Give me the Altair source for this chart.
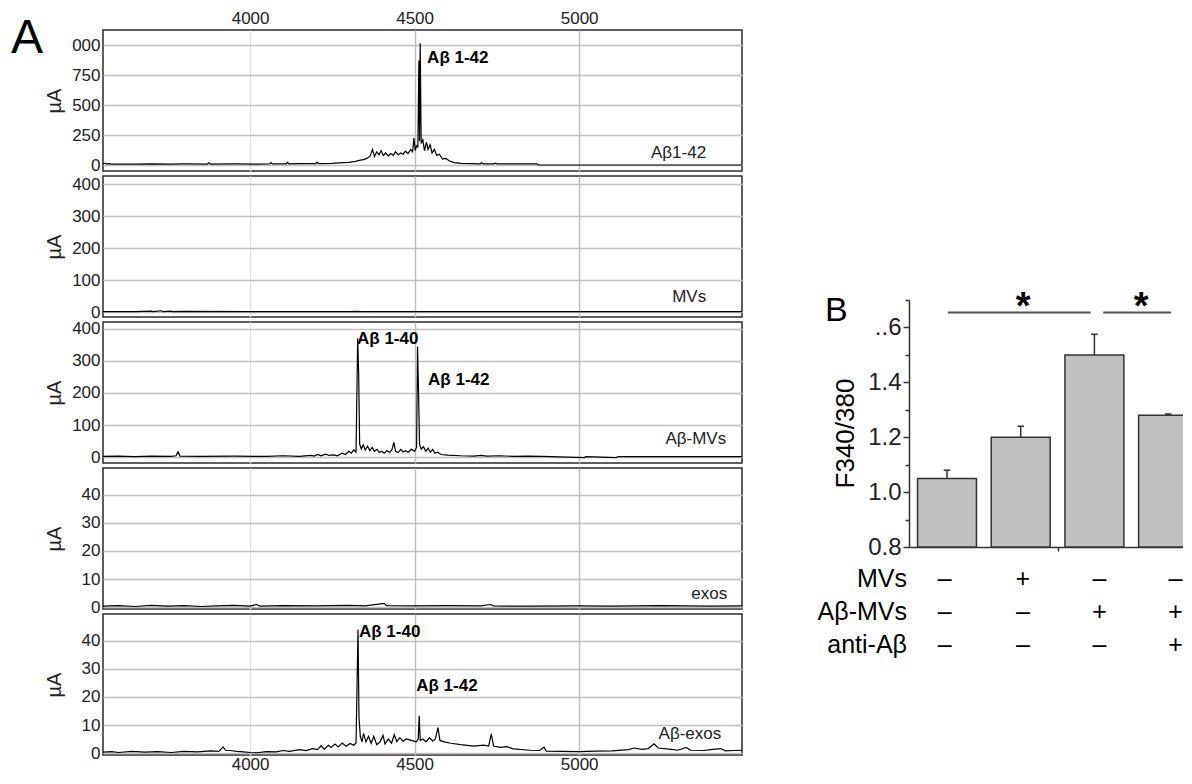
import altair as alt
import pandas as pd

FONT = "Liberation Sans"

# ---------------- Panel A data: MALDI spectra (m/z, µA) ----------------
MZ_TICKS = [4000, 4500, 5000]

SPEC_ABETA42 = [
    (3553, 8), (3560, 15), (3565, 8), (3572, 12), (3580, 8), (3650, 8), (3700, 10),
    (3760, 8), (3800, 9), (3870, 8), (3875, 18), (3880, 8), (3950, 9), (4020, 8),
    (4060, 9), (4063, 20), (4068, 9), (4110, 10), (4113, 22), (4118, 10), (4150, 12),
    (4200, 12), (4203, 24), (4208, 12), (4250, 14), (4270, 18), (4300, 22), (4320, 30),
    (4335, 40), (4345, 45), (4355, 55), (4365, 75), (4372, 130), (4378, 70), (4385, 110),
    (4392, 85), (4398, 120), (4405, 80), (4412, 100), (4420, 75), (4428, 95), (4435, 80),
    (4442, 110), (4450, 85), (4458, 100), (4465, 90), (4472, 115), (4480, 95), (4488, 130),
    (4494, 110), (4498, 225), (4502, 120), (4506, 160), (4510, 150), (4513, 870), (4515, 200),
    (4517, 1015), (4520, 180), (4525, 210), (4530, 120), (4536, 190), (4541, 130), (4547, 170),
    (4553, 100), (4560, 130), (4567, 80), (4575, 90), (4585, 50), (4595, 55), (4605, 35),
    (4620, 20), (4640, 14), (4670, 12), (4700, 10), (4703, 20), (4708, 10), (4740, 10),
    (4745, 16), (4750, 10), (4800, 10), (4872, 10), (4876, 0), (4950, 0), (5100, 0),
    (5300, 0), (5495, 0),
]

SPEC_MVS = [
    (3553, 1), (3650, 1), (3700, 3), (3705, 1), (3730, 4), (3735, 1), (3760, 3), (3765, 1),
    (3790, 2), (4000, 1), (4300, 1), (4330, 2), (4335, 1), (4700, 1), (5000, 1), (5495, 1),
]

SPEC_ABETA_MVS = [
    (3553, 2), (3600, 3), (3650, 1), (3700, 3), (3760, 2), (3775, 4), (3781, 16), (3787, 3),
    (3850, 2), (3950, 3), (4050, 2), (4100, 4), (4150, 2), (4185, 5), (4195, 3), (4205, 8),
    (4215, 4), (4230, 9), (4240, 5), (4255, 7), (4265, 4), (4280, 12), (4290, 8), (4300, 18),
    (4308, 12), (4315, 22), (4322, 15), (4327, 370), (4330, 260), (4333, 40), (4338, 25),
    (4344, 38), (4350, 22), (4357, 34), (4364, 20), (4371, 30), (4378, 18), (4386, 24),
    (4393, 14), (4400, 18), (4408, 12), (4416, 20), (4424, 14), (4431, 22), (4437, 46),
    (4442, 18), (4450, 14), (4458, 24), (4465, 16), (4472, 20), (4480, 15), (4490, 24),
    (4500, 18), (4506, 30), (4509, 345), (4512, 200), (4515, 40), (4520, 25), (4527, 32),
    (4534, 18), (4541, 28), (4548, 15), (4555, 24), (4562, 12), (4570, 15), (4580, 8),
    (4600, 6), (4640, 4), (4680, 3), (4700, 5), (4720, 3), (4760, 4), (4800, 2), (4840, 3),
    (4890, 2), (5015, -2), (5020, 1), (5112, -2), (5118, 1), (5300, 1), (5495, 1),
]

SPEC_EXOS = [
    (3553, 0.3), (3600, 0.5), (3650, 0.2), (3700, 0.6), (3750, 0.3), (3800, 0.5), (3850, 0.2),
    (3900, 0.4), (3950, 0.6), (4000, 0.3), (4020, 0.9), (4030, 0.3), (4100, 0.5), (4200, 0.4),
    (4300, 0.6), (4350, 0.4), (4407, 1.3), (4415, 0.5), (4500, 0.4), (4600, 0.5), (4700, 0.4),
    (4730, 0.9), (4740, 0.4), (4850, 0.3), (5000, 0.4), (5100, 0.3), (5250, 0.5), (5400, 0.3),
    (5495, 0.4),
]

SPEC_ABETA_EXOS = [
    (3553, 0.3), (3580, 0.5), (3600, 0.2), (3640, 0.6), (3680, 0.3), (3720, 0.5), (3760, 0.2),
    (3800, 0.6), (3840, 0.4), (3880, 0.8), (3905, 0.6), (3918, 2.2), (3925, 1.0), (3940, 0.9),
    (3960, 0.6), (3980, 0.4), (4000, 0.2), (4020, 0.1), (4050, 0.5), (4080, 0.4), (4100, 0.9),
    (4120, 0.6), (4150, 1.2), (4170, 0.9), (4190, 1.6), (4205, 1.2), (4216, 2.6), (4225, 1.4),
    (4238, 2.8), (4246, 2.0), (4258, 3.2), (4268, 2.2), (4280, 3.6), (4292, 2.4), (4304, 3.4),
    (4315, 2.8), (4322, 3.6), (4328, 44), (4331, 12.5), (4335, 6), (4340, 4), (4345, 7),
    (4352, 4), (4360, 6), (4368, 3.5), (4376, 6), (4385, 3), (4395, 4), (4404, 6.3),
    (4410, 3.2), (4420, 5), (4430, 3.5), (4438, 6.6), (4446, 4), (4455, 5.5), (4465, 4.2),
    (4475, 5), (4490, 4.5), (4505, 4), (4511, 5), (4514, 13.3), (4517, 4.5), (4525, 5),
    (4535, 4), (4545, 5.5), (4555, 4.2), (4563, 5), (4571, 9.1), (4577, 4.5), (4590, 4),
    (4610, 3.5), (4640, 3), (4680, 2.5), (4710, 2.8), (4725, 2.5), (4733, 6.8), (4740, 2.5),
    (4760, 2), (4780, 2.3), (4800, 1.5), (4850, 1), (4880, 0.9), (4893, 2.1), (4900, 0.7),
    (4950, 0.6), (5000, 0.5), (5050, 0.7), (5100, 0.8), (5150, 1.2), (5167, 1.8), (5190, 1.3),
    (5210, 1.6), (5228, 3.3), (5240, 1.8), (5280, 1.3), (5300, 1.0), (5325, 2.0), (5340, 1.0),
    (5380, 0.9), (5400, 1.2), (5430, 1.6), (5445, 0.8), (5470, 0.9), (5495, 1.0),
]

SPECTRA = [SPEC_ABETA42, SPEC_MVS, SPEC_ABETA_MVS, SPEC_EXOS, SPEC_ABETA_EXOS]
SAMPLE_NAMES = ["Aβ1-42", "MVs", "Aβ-MVs", "exos", "Aβ-exos"]
Y_TICKS = [[0, 250, 500, 750, 1000], [0, 100, 200, 300, 400], [0, 100, 200, 300, 400],
           [0, 10, 20, 30, 40], [0, 10, 20, 30, 40]]
# sample-name label anchor (m/z, µA) and peak labels (text, m/z, µA)
NAME_POS = [(5386, 103), (5386, 46.5), (5447, 57), (5450, 4.6), (5432, 6.7)]
PEAK_LABELS = [
    [("Aβ 1-42", 4538, 892)],
    [],
    [("Aβ 1-40", 4325, 369), ("Aβ 1-42", 4541, 242)],
    [],
    [("Aβ 1-40", 4331, 43.2), ("Aβ 1-42", 4505, 23.9)],
]

# ---------------- Panel B data ----------------
BAR_INDEX = [1, 2, 3, 4]
F_RATIO = [1.05, 1.20, 1.50, 1.28]
F_SEM = [0.03, 0.04, 0.075, 0.005]
ROW_NAMES = ["MVs", "Aβ-MVs", "anti-Aβ"]
ROW_SIGNS = [["–", "+", "–", "–"],
             ["–", "–", "+", "+"],
             ["–", "–", "–", "+"]]
SIGN_COLUMNS = [0.97, 2.03, 3.07, 4.1]
SIG_SPANS = [(1.01, 2.95), (3.12, 4.04)]

# ---------------- layout constants ----------------
MZ_DOMAIN = [3553, 5495]
Y_DOMAINS = [[-50, 1125], [-15.5, 425], [-18.6, 421.7], [-0.7, 49.6], [-0.7, 49.6]]
W_A, H_A = 639, 141
W_B, H_B = 274, 247
ROW_Y = [0.683, 0.563, 0.443]
SIG_Y = 1.654
STAR_Y = 1.629


def spectrum_panel(i):
    df = pd.DataFrame(SPECTRA[i], columns=["mz", "ua"])
    xgrid = {"condition": {"test": "datum.value == 4000", "value": "#e2e2e2"},
             "value": "#bdbdbd"}
    common = dict(values=MZ_TICKS, format="d", title=None, grid=True, gridColor=xgrid,
                  gridWidth=1.5, ticks=False, tickSize=0, domain=False, labelFontSize=17,
                  labelColor="#222", labelFont=FONT)
    if i == 0:
        xa = alt.Axis(orient="top", labelPadding=3, **common)
    elif i == 4:
        xa = alt.Axis(orient="bottom", labelPadding=1, **common)
    else:
        xa = alt.Axis(orient="bottom", labels=False, **common)
    yargs = dict(values=Y_TICKS[i], title="µA", titleFont=FONT, titleFontSize=20,
                 titleFontWeight="normal", titleColor="#222", titleX=-49, titleY=H_A / 2,
                 titleBaseline="middle", titleAlign="center", titleAngle=270,
                 labelFontSize=17, labelColor="#222", labelFont=FONT, labelPadding=3,
                 ticks=False, tickSize=0, domain=False, grid=True,
                 gridColor="#c0c0c0", gridWidth=1.5)
    if i == 0:
        yargs["labelExpr"] = "datum.value == 1000 ? '000' : datum.label"
    ya = alt.Axis(**yargs)
    x = alt.X("mz:Q", scale=alt.Scale(domain=MZ_DOMAIN, nice=False, zero=False), axis=xa)
    y = alt.Y("ua:Q", scale=alt.Scale(domain=Y_DOMAINS[i], nice=False, zero=False), axis=ya)

    layers = [alt.Chart(df).mark_line(color="black", strokeWidth=1.2, clip=True).encode(x=x, y=y)]

    if PEAK_LABELS[i]:
        pdf = pd.DataFrame(PEAK_LABELS[i], columns=["label", "mz", "ua"])
        layers.append(alt.Chart(pdf).mark_text(align="left", baseline="middle", fontWeight="bold",
                                               fontSize=17, font=FONT, color="black")
                      .encode(x=x, y=y, text="label:N"))
    ndf = pd.DataFrame([(SAMPLE_NAMES[i], NAME_POS[i][0], NAME_POS[i][1])],
                       columns=["label", "mz", "ua"])
    layers.append(alt.Chart(ndf).mark_text(align="right", baseline="middle", fontSize=17,
                                           font=FONT, color="#222")
                  .encode(x=x, y=y, text="label:N"))
    if i == 0:
        layers.append(alt.Chart(pd.DataFrame({"t": ["A"]})).mark_text(
            align="left", baseline="alphabetic", fontSize=48, font=FONT, color="black")
            .encode(x=alt.value(-92), y=alt.value(23), text="t:N"))
    return alt.layer(*layers).properties(width=W_A, height=H_A,
                                         view=alt.ViewBackground(stroke="#2a2a2a", strokeWidth=1.5))


left = alt.vconcat(*[spectrum_panel(i) for i in range(5)], spacing=5, bounds="flush")

# ---------------- Panel B ----------------
bdf = pd.DataFrame({"idx": BAR_INDEX, "val": F_RATIO, "sem": F_SEM})
bdf["lo"] = bdf["idx"] - 0.4
bdf["hi"] = bdf["idx"] + 0.4
bdf["top"] = bdf["val"] + bdf["sem"]
bdf["clo"] = bdf["idx"] - 0.045
bdf["chi"] = bdf["idx"] + 0.045
bdf["base"] = 0.8

xs = alt.Scale(domain=[0.4844, 0.4844 + W_B / 73.7], nice=False, zero=False)
ys = alt.Scale(domain=[0.8, 1.7], nice=False, zero=False)
xaxB = alt.Axis(values=[2.5], labels=False, title=None, tickSize=4, tickColor="#333", tickWidth=1.5,
                domainColor="#333", domainWidth=1.5, grid=False)
yaxB = alt.Axis(values=[0.8, 0.9, 1.0, 1.1, 1.2, 1.3, 1.4, 1.5, 1.6, 1.7],
                labelExpr="round(datum.value*10) % 2 == 0 ? (round(datum.value*10) == 16 ? '..6' : format(datum.value, '.1f')) : ''",
                title="F340/380", titleFont=FONT, titleFontSize=26, titleFontWeight="normal",
                titleColor="black", titleX=-64, titleY=133, titleBaseline="middle",
                titleAlign="center", titleAngle=270,
                labelFontSize=24, labelColor="#222", labelFont=FONT, labelPadding=2,
                tickSize={"condition": {"test": "round(datum.value*10) % 2 == 0", "value": 6}, "value": 4},
                tickColor="#333", tickWidth=1.5, domainColor="#333", domainWidth=1.5, grid=False)


def XB(f):
    return alt.X(f, type="quantitative", scale=xs, axis=xaxB)


def YB(f):
    return alt.Y(f, type="quantitative", scale=ys, axis=yaxB)


bars = alt.Chart(bdf).mark_bar(fill="#c0c0c0", stroke="#333", strokeWidth=1.5, clip=True).encode(
    x=XB("lo"), x2="hi", y=YB("val"), y2="base")
errs = alt.Chart(bdf).mark_rule(color="#333", strokeWidth=1.5).encode(x=XB("idx"), y=YB("val"), y2="top")
caps = alt.Chart(bdf).mark_rule(color="#333", strokeWidth=1.5).encode(x=XB("clo"), x2="chi", y=YB("top"))

sdf = pd.DataFrame(SIG_SPANS, columns=["a", "b"])
sdf["y"] = SIG_Y
sdf["mid"] = (sdf["a"] + sdf["b"]) / 2
sdf["sy"] = STAR_Y
sdf["star"] = "*"
sig = alt.Chart(sdf).mark_rule(color="#555", strokeWidth=2).encode(x=XB("a"), x2="b", y=YB("y"))
stars = alt.Chart(sdf).mark_text(fontSize=38, fontWeight="bold", font=FONT, baseline="alphabetic",
                                 align="center", dx=4, color="black").encode(
    x=XB("mid"), y=YB("sy"), text="star:N")

rows = []
for r, name in enumerate(ROW_NAMES):
    for j, s in enumerate(ROW_SIGNS[r]):
        rows.append({"idx": SIGN_COLUMNS[j], "ry": ROW_Y[r], "sign": s})
tdf = pd.DataFrame(rows)
signs = alt.Chart(tdf).mark_text(fontSize=25, font=FONT, baseline="middle", align="center",
                                 color="black").encode(x=XB("idx"), y=YB("ry"), text="sign:N")
ndfB = pd.DataFrame({"name": ROW_NAMES, "ry": ROW_Y})
rownames = alt.Chart(ndfB).mark_text(fontSize=25, font=FONT, baseline="middle", align="right",
                                     color="black").encode(x=alt.value(-2), y=YB("ry"), text="name:N")
blabel = alt.Chart(pd.DataFrame({"t": ["B"]})).mark_text(
    align="left", baseline="alphabetic", fontSize=34, font=FONT, color="black").encode(
    x=alt.value(-84), y=alt.value(21), text="t:N")

bchart = alt.layer(bars, errs, caps, sig, stars, signs, rownames, blabel).properties(
    width=W_B, height=H_B, view=alt.ViewBackground(stroke=None))

spacer = alt.Chart(pd.DataFrame({"s": [0]})).mark_point(opacity=0).encode(
    x=alt.X("s:Q", axis=None), y=alt.Y("s:Q", axis=None)).properties(
    width=20, height=270, view=alt.ViewBackground(stroke=None))

right = alt.vconcat(spacer, bchart, spacing=0, bounds="flush")

chart = alt.hconcat(left, right, spacing=74).properties(
    padding={"left": 2, "top": 0, "right": 0, "bottom": 0}
).configure(font=FONT)

chart.save("out.html", embed_options={"renderer": "svg", "actions": False})
